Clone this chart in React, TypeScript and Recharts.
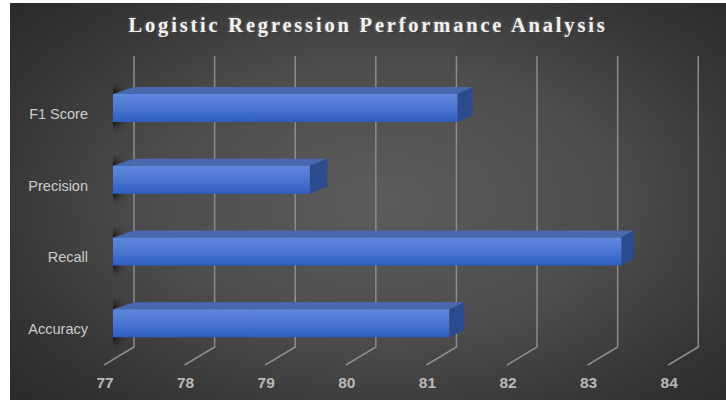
import { BarChart, Bar, XAxis, YAxis, CartesianGrid } from "recharts";

const metrics = ["F1 Score", "Precision", "Recall", "Accuracy"];
const scores = [81.2, 79.4, 83.2, 81.1];
const xTicks = [77, 78, 79, 80, 81, 82, 83, 84];

const data = metrics.map((m, i) => ({ name: m, value: scores[i] }));

const W = 716;
const H = 397;
const PLOT_LEFT = 103;

// oblique 3D: front face x -> back wall x
const toBack = (px: number) => px + 21 - (px - PLOT_LEFT) * 0.017;
const DEPTH_Y = 7;

function Bar3D(props: any) {
  const { x, y, width, height } = props;
  if (width == null || width <= 0) return null;
  const x1 = x;
  const x2 = x + width;
  const y1 = y;
  const y2 = y + height;
  const bx1 = toBack(x1);
  const bx2 = toBack(x2);
  const by1 = y1 - DEPTH_Y;
  const by2 = y2 - DEPTH_Y;
  return (
    <g>
      <rect x={x1 - 10} y={by1 + 2} width={15} height={height + 9} fill="#000" opacity={0.9} filter="url(#barShadow)" />
      <polygon points={`${x1},${y1} ${x2},${y1} ${bx2},${by1} ${bx1},${by1}`} fill="#4a68ad" />
      <polygon points={`${x2},${y1} ${bx2},${by1} ${bx2},${by2} ${x2},${y2}`} fill="#2c4b8f" />
      <rect x={x1} y={y1} width={width} height={height} fill="url(#barFront)" />
    </g>
  );
}

function GridLine(props: any) {
  const { x1 } = props;
  const bx = toBack(x1);
  return (
    <path
      d={`M${bx},53 L${bx},344 L${bx - 30},362`}
      stroke="#8c8c8c"
      strokeWidth={1.5}
      fill="none"
    />
  );
}

function XTick(props: any) {
  const { x, payload } = props;
  const bx = toBack(x);
  return (
    <text
      x={bx - 29}
      y={379}
      textAnchor="middle"
      dominantBaseline="central"
      fill="#b9b9b9"
      fontSize={15.5}
      fontWeight="bold"
      fontFamily="'Liberation Sans', Arial, sans-serif"
    >
      {payload.value}
    </text>
  );
}

function YTick(props: any) {
  const { y, payload } = props;
  return (
    <text
      x={78}
      y={y + 6}
      textAnchor="end"
      dominantBaseline="central"
      fill="#cccccc"
      fontSize={14.5}
      fontFamily="'Liberation Sans', Arial, sans-serif"
    >
      {payload.value}
    </text>
  );
}

export default function App() {
  return (
    <div
      style={{
        position: "absolute",
        left: 10,
        top: 3,
        width: W,
        height: H,
        background:
          "radial-gradient(ellipse 70% 75% at 52% 50%, #5c5c5c 0%, #4d4d4d 45%, #343434 80%, #2a2a2a 100%)",
      }}
    >
      <div
        style={{
          position: "absolute",
          top: 11,
          left: 0,
          width: W,
          textAlign: "center",
          fontFamily: "'Liberation Serif', 'Times New Roman', serif",
          fontWeight: "bold",
          fontSize: 20.5,
          letterSpacing: 2.8,
          color: "#f2f2f2",
          textShadow: "0 0 3px rgba(255,255,255,0.45), 1px 1px 2px rgba(0,0,0,0.6)",
        }}
      >
        Logistic Regression Performance Analysis
      </div>
      <BarChart
        width={W}
        height={H}
        data={data}
        layout="vertical"
        margin={{ top: 69, right: 39, bottom: 0, left: 0 }}
        barSize={28}
        style={{ position: "absolute", left: 0, top: 0 }}
      >
        <defs>
          <linearGradient id="barFront" x1="0" y1="0" x2="0" y2="1">
            <stop offset="0%" stopColor="#5f87dc" />
            <stop offset="45%" stopColor="#4d78d4" />
            <stop offset="100%" stopColor="#2e5cc1" />
          </linearGradient>
          <filter id="barShadow" x="-100%" y="-20%" width="300%" height="140%">
            <feGaussianBlur stdDeviation="4" />
          </filter>
        </defs>
        <CartesianGrid horizontal={false} vertical={(p: any) => <GridLine key={p.key} {...p} />} />
        <XAxis
          type="number"
          domain={[77, 84]}
          ticks={xTicks}
          allowDataOverflow
          axisLine={false}
          tickLine={false}
          tickSize={0}
          tickMargin={0}
          height={41}
          tick={<XTick />}
          interval={0}
        />
        <YAxis
          type="category"
          dataKey="name"
          width={103}
          axisLine={false}
          tickLine={false}
          tickSize={0}
          tick={<YTick />}
          interval={0}
        />
        <Bar dataKey="value" shape={<Bar3D />} isAnimationActive={false} />
      </BarChart>
    </div>
  );
}
